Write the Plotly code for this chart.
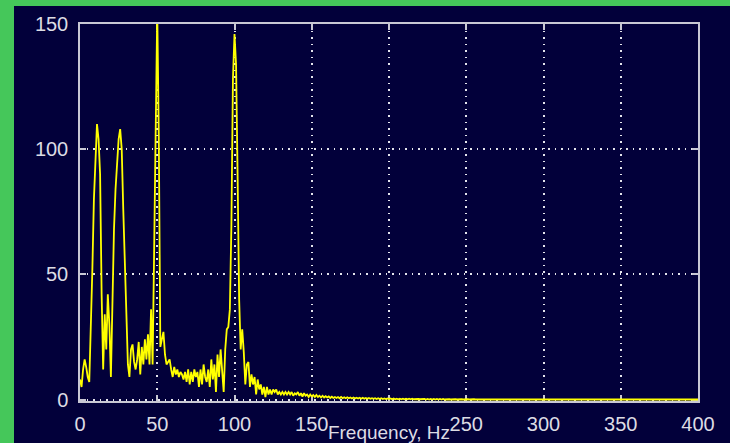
import plotly.graph_objects as go

# Spectrum magnitude, one value per Hz (0..400 Hz)
amp = [
    8, 5, 12, 16, 13, 9, 7, 26, 52, 80,
    99, 110, 104, 90, 42, 12, 34, 20, 42, 30,
    9, 40, 68, 84, 97, 104, 108, 100, 76, 58,
    36, 14, 9, 20, 22, 15, 12, 16, 23, 10,
    21, 14, 24, 16, 26, 14, 36, 14, 60, 118,
    155, 105, 21, 24, 27, 18, 14, 15, 16, 12,
    9, 13, 10, 12, 9, 11, 10, 8, 11, 7,
    12, 6, 11, 7, 12, 9, 11, 5, 12, 6,
    14, 9, 7, 12, 5, 16, 8, 14, 3, 18,
    9, 20, 12, 3, 20, 28, 29, 36, 70, 128,
    146, 134, 90, 40, 20, 28, 19, 6, 14, 15,
    5, 10, 6, 9, 2, 8, 4, 6, 2, 5,
    1, 5, 2, 4, 2, 4, 3, 4, 2, 3,
    2, 3, 2, 3, 2, 3, 2, 3, 1.5, 2.5,
    2, 3, 1.5, 2.5, 1.2, 2.5, 1.5, 2, 1, 2,
    1.2, 1.8, 1, 1.8, 1, 1.5, 0.8, 1.5, 0.8, 1.3,
    0.8, 1.2, 0.6, 1.1, 0.6, 1, 0.6, 1, 0.5, 1,
    0.5, 0.9, 0.5, 0.9, 0.5, 0.8, 0.4, 0.8, 0.4, 0.7,
    0.4, 0.7, 0.3, 0.7, 0.3, 0.6, 0.3, 0.6, 0.3, 0.5,
    0.3, 0.5, 0.2, 0.5, 0.2, 0.5, 0.2, 0.4, 0.2, 0.4,
    0.2, 0.4, 0.1, 0.4, 0.1, 0.3, 0.1, 0.3, 0.1, 0.3,
    0.1, 0.3, 0.1, 0.3, 0.1, 0.3, 0.1, 0.2, 0.1, 0.2,
    0.1, 0.2, 0.1, 0.2, 0, 0.2, 0, 0.2, 0, 0.2,
    0, 0.2, 0, 0.2, 0, 0.2, 0, 0.1, 0, 0.1,
    0, 0.1, 0, 0.1, 0, 0.1, 0, 0.1, 0, 0.1,
    0, 0.1, 0, 0.1, 0, 0.1, 0, 0.1, 0, 0,
    0, 0, 0, 0, 0, 0, 0, 0, 0, 0,
    0, 0, 0, 0, 0, 0, 0, 0, 0, 0,
    0, 0, 0, 0, 0, 0, 0, 0, 0, 0,
    0, 0, 0, 0, 0, 0, 0, 0, 0, 0,
    0, 0, 0, 0, 0, 0, 0, 0, 0, 0,
    0, 0, 0, 0, 0, 0, 0, 0, 0, 0,
    0, 0, 0, 0, 0, 0, 0, 0, 0, 0,
    0, 0, 0, 0, 0, 0, 0, 0, 0, 0,
    0, 0, 0, 0, 0, 0, 0, 0, 0, 0,
    0, 0, 0, 0, 0, 0, 0, 0, 0, 0,
    0, 0, 0, 0, 0, 0, 0, 0, 0, 0,
    0, 0, 0, 0, 0, 0, 0, 0, 0, 0,
    0, 0, 0, 0, 0, 0, 0, 0, 0, 0,
    0, 0, 0, 0, 0, 0, 0, 0, 0, 0,
    0,
]
freq_hz = list(range(len(amp)))

x_ticks = [0, 50, 100, 150, 200, 250, 300, 350, 400]
# the "200" label is hidden behind the axis title in the reference
x_tick_labels = ["0", "50", "100", "150", "", "250", "300", "350", "400"]
y_ticks = [0, 50, 100, 150]
y_tick_labels = ["0", "50", "100", "150"]
x_title = "Frequency, Hz"

NAVY = "#02003a"
GREEN = "#45c75a"
AXIS = "#c8c8d4"
TXT = "#dcdce4"
GRID = "#e4e4ec"
FONT = "Liberation Sans"

fig = go.Figure()
fig.add_trace(go.Scatter(
    x=freq_hz, y=amp, mode="lines",
    line=dict(color="#ffff00", width=1.8),
    hoverinfo="skip", showlegend=False,
))

W, H = 730, 443
L, R, T, B = 80, 32, 24, 42
pw, ph = W - L - R, H - T - B

def px(xp):
    return (xp - L) / pw

def py(yp):
    return (H - B - yp) / ph

fig.update_layout(
    width=W, height=H,
    margin=dict(l=L, r=R, t=T, b=B, pad=0, autoexpand=False),
    paper_bgcolor=NAVY, plot_bgcolor=NAVY,
    font=dict(family=FONT, color=TXT, size=20),
    shapes=[
        dict(type="rect", xref="paper", yref="paper",
             x0=px(0), x1=px(14), y0=py(H), y1=py(0),
             fillcolor=GREEN, line=dict(width=0), layer="below"),
        dict(type="rect", xref="paper", yref="paper",
             x0=px(0), x1=px(W), y0=py(6), y1=py(0),
             fillcolor=GREEN, line=dict(width=0), layer="below"),
    ],
)
fig.update_xaxes(
    range=[0, 400], tickvals=x_ticks, ticktext=x_tick_labels,
    showgrid=True, gridcolor=GRID, griddash="1.5px,5px", gridwidth=1.5,
    zeroline=False, showline=True, linecolor=AXIS, linewidth=1.5, mirror="ticks",
    ticks="inside", ticklen=6, tickcolor=AXIS, tickwidth=1.5,
    tickfont=dict(family=FONT, size=20, color=TXT),
    ticklabelstandoff=4,
    layer="below traces",
    title=dict(text=x_title, standoff=2, font=dict(family=FONT, size=19, color=TXT)),
)
fig.update_yaxes(
    range=[-0.6, 150], tickvals=y_ticks, ticktext=y_tick_labels,
    showgrid=True, gridcolor=GRID, griddash="1.5px,5px", gridwidth=1.5,
    zeroline=False, showline=True, linecolor=AXIS, linewidth=1.5, mirror="ticks",
    ticks="inside", ticklen=6, tickcolor=AXIS, tickwidth=1.5,
    tickfont=dict(family=FONT, size=20, color=TXT),
    ticklabelstandoff=6,
    layer="below traces",
)

fig.write_html(
    "out.html",
    config={"displayModeBar": False},
    post_script="document.body.style.margin='0';document.body.style.padding='0';",
)
